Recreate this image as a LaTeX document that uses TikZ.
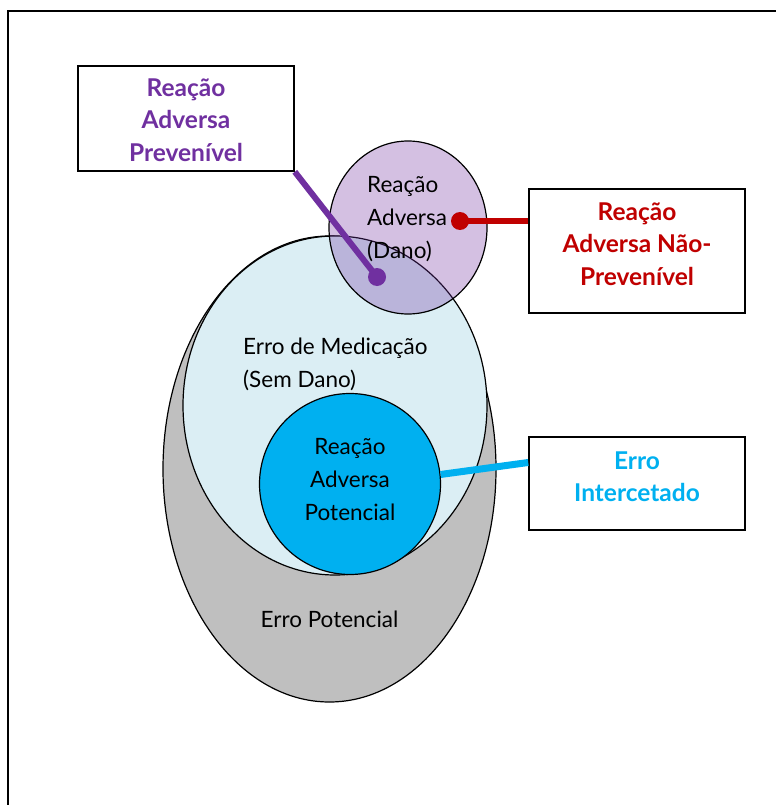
\documentclass[tikz,border=0pt]{standalone}
\usepackage{fontspec}
\setmainfont{Lato}
\usetikzlibrary{shapes.geometric, positioning, calc}
\definecolor{potgray}{HTML}{BFBFBF}
\definecolor{medblue}{HTML}{DBEEF4}
\definecolor{potblue}{HTML}{00B0F0}
\definecolor{reacpurple}{HTML}{7030A0}
\definecolor{reacred}{HTML}{C00000}
\tikzset{
  zone/.style={ellipse, draw, line width=1.2pt, inner sep=0pt},
  labelbox/.style={rectangle, draw, line width=1.6pt, minimum width=216pt, fill=white},
  boxtext/.style={font=\bfseries\fontsize{24.5}{32.5}\selectfont, align=center, anchor=north, inner sep=0pt},
  zonetext/.style={font=\fontsize{22.5}{33}\selectfont, inner sep=0pt},
  pin/.style={circle, inner sep=0pt, minimum size=18pt},
}

\begin{document}
\begin{tikzpicture}[x=1pt, y=-1pt]
\useasboundingbox (0,0) rectangle (776,805);
% Frame
\draw[line width=1.6pt] (8,805) -- (8,11) -- (776,11);
% Zones
\node[zone, fill=potgray, minimum width=333pt, minimum height=466pt] (potencial) at (329.5,469) {};
\node[zone, fill=medblue, minimum width=304pt, minimum height=339pt] (medicacao) at (335,405.5) {};
\node[circle, draw, line width=1.2pt, fill=potblue, inner sep=0pt, minimum size=181pt] (rapot) at (350,484) {};
\node[zone, fill=reacpurple, fill opacity=0.3, minimum width=158pt, minimum height=173pt] (dano) at (408,227.5) {};
% Zone texts
\node[zonetext, align=left, anchor=west] at (243,364.5) {Erro de Medicação\\(Sem Dano)};
\node[zonetext] at (329.5,619) {Erro Potencial};
\node[zonetext, align=center] at (350,480) {Reação\\Adversa\\Potencial};
\node[zonetext, align=left, anchor=west] at (367,219) {Reação\\Adversa\\(Dano)};
% Boxes
\node[labelbox, minimum height=105pt] (prevenivel) at (186,118.5) {};
\node[boxtext, text=reacpurple] at ([yshift=-13pt]prevenivel.north) {Reação\\Adversa\\Prevenível};
\node[labelbox, minimum height=124pt] (naoprev) at (637,251) {};
\node[boxtext, text=reacred] at ([yshift=-14pt]naoprev.north) {Reação\\Adversa Não-\\Prevenível};
\node[labelbox, minimum height=93pt] (intercetado) at (637,483.5) {};
\node[boxtext, text=potblue] at ([yshift=-15pt]intercetado.north) {Erro\\Intercetado};
% Connectors
\node[pin, fill=reacpurple] (dotprev) at (377,277) {};
\node[pin, fill=reacred] (dotnao) at (460,221) {};
\draw[reacpurple, line width=6pt] (prevenivel.south east) -- (dotprev.center);
\draw[reacred, line width=6pt] (dotnao.center) -- (dotnao.center -| naoprev.west);
\draw[potblue, line width=7pt] (rapot.6) -- ([yshift=21pt]intercetado.west);
\end{tikzpicture}
\end{document}
